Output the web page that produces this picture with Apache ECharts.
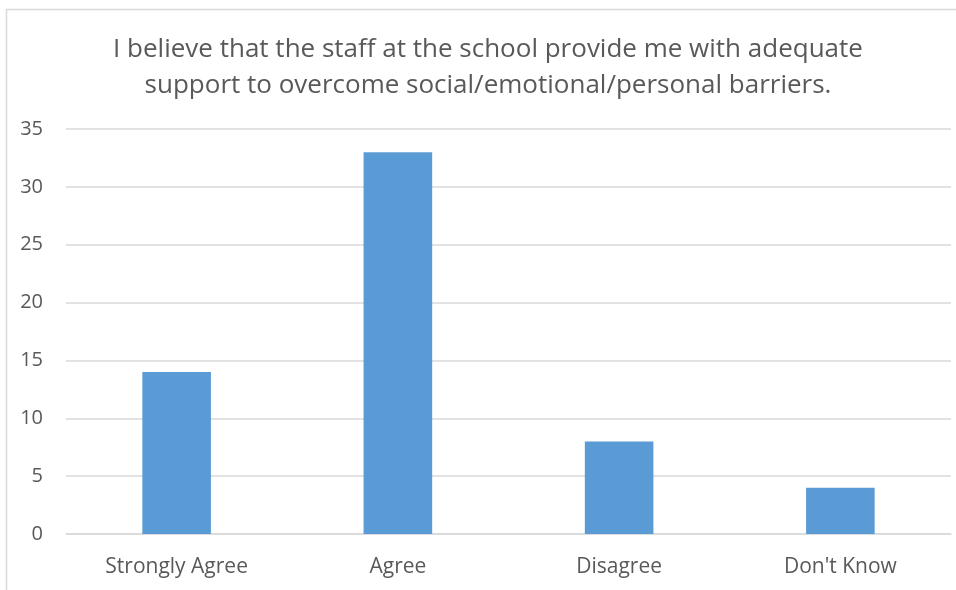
<!DOCTYPE html>
<html>
<head>
<meta charset="utf-8">
<script src="https://cdn.jsdelivr.net/npm/echarts@6/dist/echarts.min.js"></script>
<style>
  html, body { margin: 0; padding: 0; background: #ffffff; }
  #chart { width: 956px; height: 590px; }
</style>
</head>
<body>
<div id="chart"></div>
<script>
// Survey responses for the staff-support statement
const categories = ['Strongly Agree', 'Agree', 'Disagree', "Don't Know"];
const responses = [14, 33, 8, 4];
const titleLines = [
  'I believe that the staff at the school provide me with adequate',
  'support to overcome social/emotional/personal barriers.'
];

const textColor = '#595959';
const gridColor = '#d9d9d9';
const fontFamily = '"Open Sans", "Noto Sans", sans-serif';

const chart = echarts.init(document.getElementById('chart'), null, { renderer: 'canvas' });

chart.setOption({
  backgroundColor: '#ffffff',
  animation: false,
  graphic: [
    {
      // outer chart frame
      type: 'rect',
      left: 4, top: 7,
      shape: { width: 980, height: 620 },
      style: { fill: 'none', stroke: '#d9d9d9', lineWidth: 1.5 },
      silent: true
    }
  ],
  title: {
    text: titleLines.join('\n'),
    left: 483,
    top: 27,
    textAlign: 'center',
    textStyle: {
      color: textColor,
      fontFamily: fontFamily,
      fontSize: 26,
      fontWeight: 'normal',
      lineHeight: 36
    }
  },
  grid: {
    left: 66,
    right: 5,
    top: 129,
    bottom: 56,
    containLabel: false
  },
  xAxis: {
    type: 'category',
    data: categories,
    axisLine: { show: true, lineStyle: { color: gridColor, width: 1.5 } },
    axisTick: { show: false },
    axisLabel: {
      color: textColor,
      fontFamily: fontFamily,
      fontSize: 21,
      margin: 23
    }
  },
  yAxis: {
    type: 'value',
    min: 0,
    max: 35,
    interval: 5,
    axisLine: { show: false },
    axisTick: { show: false },
    splitLine: { lineStyle: { color: gridColor, width: 1.5 } },
    axisLabel: {
      color: textColor,
      fontFamily: fontFamily,
      fontSize: 20,
      margin: 23
    }
  },
  series: [
    {
      type: 'bar',
      data: responses,
      barWidth: '31%',
      itemStyle: { color: '#5b9bd5' }
    }
  ]
});
</script>
</body>
</html>
